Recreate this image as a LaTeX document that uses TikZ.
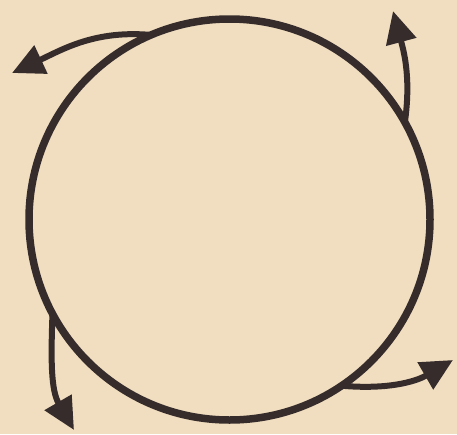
\documentclass[tikz,border=0pt]{standalone}
\usetikzlibrary{arrows.meta}
\definecolor{paper}{RGB}{241,222,192}
\definecolor{ink}{RGB}{55,44,44}
\tikzset{
  ring/.style={draw=ink, circle, line width=7.5pt, minimum size=401pt, inner sep=0pt, outer sep=0pt},
  spin/.style={draw=ink, line width=6pt, line cap=round,
    -{Triangle[length=32pt, width=30pt]}}
}
\begin{document}
\begin{tikzpicture}[x=1pt, y=-1pt]
\fill[paper] (0,0) rectangle (457,434);
\useasboundingbox (0,0) rectangle (457,434);
\node[ring] (c) at (229.5,219.5) {};
\coordinate (t1) at (12,73);
\coordinate (t2) at (393,11);
\coordinate (t3) at (74,430);
\coordinate (t4) at (453,360);
\draw[spin] (c.113) to[out=175, in=25] (t1);
\draw[spin] (c.29) to[out=82, in=-75] (t2);
\draw[spin] (c.208) to[out=268, in=120] (t3);
\draw[spin] (c.304) to[out=-5, in=210] (t4);
\end{tikzpicture}
\end{document}
